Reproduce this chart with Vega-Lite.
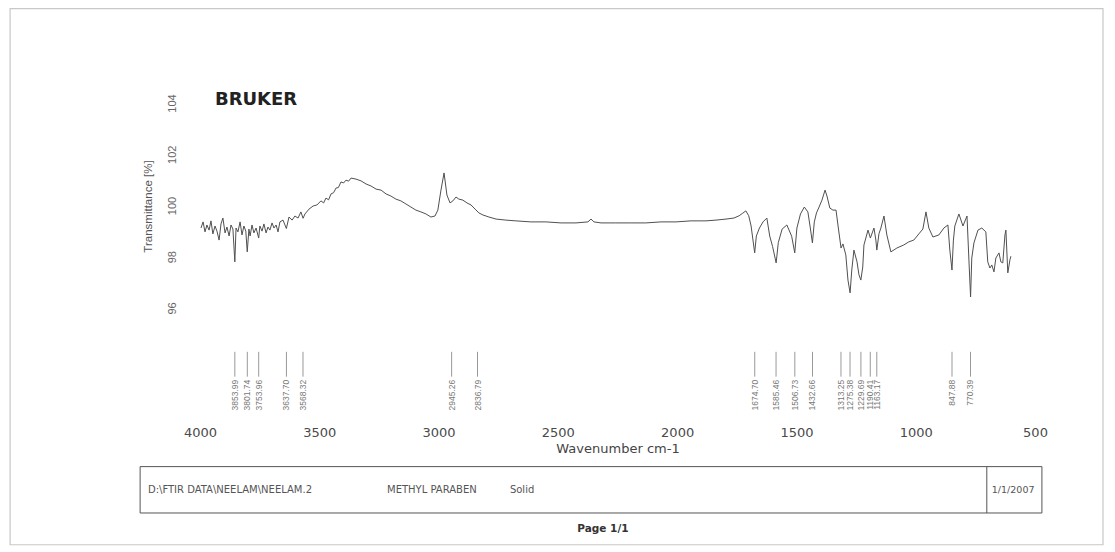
{
  "$schema": "https://vega.github.io/schema/vega-lite/v6.json",
  "autosize": "none",
  "width": 835,
  "height": 360,
  "padding": {"left": 200, "top": 60, "right": 80, "bottom": 132},
  "background": "white",
  "config": {"view": {"stroke": null}, "font": "Liberation Sans"},
  "datasets": {
    "spectrum": [
      {"wn": 3996, "t": 99.12}, {"wn": 3987, "t": 99.36}, {"wn": 3979, "t": 98.97}, {"wn": 3971, "t": 99.24},
      {"wn": 3962, "t": 99.04}, {"wn": 3954, "t": 99.40}, {"wn": 3946, "t": 98.89}, {"wn": 3937, "t": 99.20},
      {"wn": 3929, "t": 99.00}, {"wn": 3920, "t": 98.65}, {"wn": 3912, "t": 99.28}, {"wn": 3904, "t": 99.51},
      {"wn": 3895, "t": 98.93}, {"wn": 3887, "t": 99.16}, {"wn": 3878, "t": 98.81}, {"wn": 3870, "t": 99.24},
      {"wn": 3862, "t": 99.08}, {"wn": 3854, "t": 97.80}, {"wn": 3849, "t": 99.12}, {"wn": 3841, "t": 98.97},
      {"wn": 3832, "t": 99.36}, {"wn": 3824, "t": 98.85}, {"wn": 3816, "t": 99.20}, {"wn": 3808, "t": 99.00},
      {"wn": 3802, "t": 98.19}, {"wn": 3795, "t": 99.08}, {"wn": 3790, "t": 98.81}, {"wn": 3782, "t": 99.24},
      {"wn": 3774, "t": 98.93}, {"wn": 3765, "t": 99.12}, {"wn": 3754, "t": 98.73}, {"wn": 3749, "t": 99.20},
      {"wn": 3740, "t": 99.00}, {"wn": 3732, "t": 99.28}, {"wn": 3723, "t": 98.93}, {"wn": 3715, "t": 99.16},
      {"wn": 3707, "t": 99.04}, {"wn": 3698, "t": 99.32}, {"wn": 3690, "t": 99.12}, {"wn": 3681, "t": 99.24},
      {"wn": 3673, "t": 98.97}, {"wn": 3665, "t": 99.36}, {"wn": 3652, "t": 99.43}, {"wn": 3638, "t": 99.10},
      {"wn": 3627, "t": 99.55}, {"wn": 3614, "t": 99.43}, {"wn": 3602, "t": 99.59}, {"wn": 3589, "t": 99.51},
      {"wn": 3577, "t": 99.75}, {"wn": 3568, "t": 99.50}, {"wn": 3560, "t": 99.67}, {"wn": 3543, "t": 99.86},
      {"wn": 3526, "t": 99.98}, {"wn": 3510, "t": 100.02}, {"wn": 3493, "t": 100.18}, {"wn": 3482, "t": 100.10},
      {"wn": 3472, "t": 100.29}, {"wn": 3461, "t": 100.22}, {"wn": 3451, "t": 100.45}, {"wn": 3440, "t": 100.50},
      {"wn": 3430, "t": 100.68}, {"wn": 3420, "t": 100.70}, {"wn": 3409, "t": 100.92}, {"wn": 3398, "t": 100.88},
      {"wn": 3388, "t": 100.99}, {"wn": 3377, "t": 100.95}, {"wn": 3367, "t": 101.07}, {"wn": 3346, "t": 101.03},
      {"wn": 3325, "t": 100.96}, {"wn": 3304, "t": 100.84}, {"wn": 3283, "t": 100.76}, {"wn": 3262, "t": 100.64},
      {"wn": 3241, "t": 100.60}, {"wn": 3220, "t": 100.45}, {"wn": 3200, "t": 100.37}, {"wn": 3179, "t": 100.25},
      {"wn": 3158, "t": 100.18}, {"wn": 3137, "t": 100.06}, {"wn": 3116, "t": 99.94}, {"wn": 3095, "t": 99.82},
      {"wn": 3074, "t": 99.75}, {"wn": 3053, "t": 99.67}, {"wn": 3032, "t": 99.55}, {"wn": 3015, "t": 99.59},
      {"wn": 3003, "t": 99.82}, {"wn": 2990, "t": 100.60}, {"wn": 2977, "t": 101.27}, {"wn": 2965, "t": 100.41},
      {"wn": 2952, "t": 100.10}, {"wn": 2940, "t": 100.18}, {"wn": 2927, "t": 100.33}, {"wn": 2915, "t": 100.25},
      {"wn": 2898, "t": 100.21}, {"wn": 2881, "t": 100.10}, {"wn": 2864, "t": 100.02}, {"wn": 2847, "t": 99.86},
      {"wn": 2831, "t": 99.71}, {"wn": 2814, "t": 99.63}, {"wn": 2789, "t": 99.55}, {"wn": 2759, "t": 99.47},
      {"wn": 2718, "t": 99.43}, {"wn": 2676, "t": 99.40}, {"wn": 2613, "t": 99.36}, {"wn": 2550, "t": 99.36},
      {"wn": 2487, "t": 99.32}, {"wn": 2424, "t": 99.32}, {"wn": 2374, "t": 99.36}, {"wn": 2361, "t": 99.47},
      {"wn": 2349, "t": 99.36}, {"wn": 2319, "t": 99.32}, {"wn": 2257, "t": 99.32}, {"wn": 2194, "t": 99.32},
      {"wn": 2131, "t": 99.32}, {"wn": 2068, "t": 99.36}, {"wn": 2005, "t": 99.36}, {"wn": 1942, "t": 99.40},
      {"wn": 1879, "t": 99.40}, {"wn": 1837, "t": 99.43}, {"wn": 1795, "t": 99.47}, {"wn": 1762, "t": 99.51},
      {"wn": 1740, "t": 99.60}, {"wn": 1725, "t": 99.70}, {"wn": 1712, "t": 99.79}, {"wn": 1700, "t": 99.60},
      {"wn": 1690, "t": 99.20}, {"wn": 1675, "t": 98.15}, {"wn": 1668, "t": 98.81}, {"wn": 1655, "t": 99.12},
      {"wn": 1640, "t": 99.36}, {"wn": 1624, "t": 99.51}, {"wn": 1612, "t": 98.81}, {"wn": 1600, "t": 98.40},
      {"wn": 1585, "t": 97.76}, {"wn": 1576, "t": 98.55}, {"wn": 1560, "t": 99.08}, {"wn": 1540, "t": 99.24},
      {"wn": 1520, "t": 98.80}, {"wn": 1507, "t": 98.15}, {"wn": 1498, "t": 99.12}, {"wn": 1483, "t": 99.67},
      {"wn": 1467, "t": 99.94}, {"wn": 1452, "t": 99.75}, {"wn": 1443, "t": 99.20}, {"wn": 1433, "t": 98.54},
      {"wn": 1425, "t": 99.36}, {"wn": 1416, "t": 99.71}, {"wn": 1405, "t": 99.94}, {"wn": 1393, "t": 100.21},
      {"wn": 1380, "t": 100.60}, {"wn": 1372, "t": 100.37}, {"wn": 1360, "t": 99.90}, {"wn": 1347, "t": 99.82},
      {"wn": 1334, "t": 99.82}, {"wn": 1326, "t": 99.24}, {"wn": 1313, "t": 98.34}, {"wn": 1305, "t": 98.50},
      {"wn": 1293, "t": 98.07}, {"wn": 1284, "t": 97.09}, {"wn": 1275, "t": 96.59}, {"wn": 1268, "t": 97.48},
      {"wn": 1259, "t": 98.26}, {"wn": 1246, "t": 97.80}, {"wn": 1238, "t": 97.30}, {"wn": 1230, "t": 97.09},
      {"wn": 1222, "t": 97.60}, {"wn": 1217, "t": 98.46}, {"wn": 1200, "t": 99.04}, {"wn": 1190, "t": 98.73},
      {"wn": 1175, "t": 99.12}, {"wn": 1167, "t": 98.65}, {"wn": 1163, "t": 98.26}, {"wn": 1154, "t": 98.90},
      {"wn": 1146, "t": 99.12}, {"wn": 1133, "t": 99.59}, {"wn": 1121, "t": 98.85}, {"wn": 1104, "t": 98.19},
      {"wn": 1079, "t": 98.34}, {"wn": 1050, "t": 98.46}, {"wn": 1029, "t": 98.58}, {"wn": 1008, "t": 98.65},
      {"wn": 987, "t": 98.89}, {"wn": 970, "t": 99.08}, {"wn": 957, "t": 99.75}, {"wn": 945, "t": 99.12},
      {"wn": 928, "t": 98.77}, {"wn": 903, "t": 98.85}, {"wn": 882, "t": 99.12}, {"wn": 865, "t": 99.24},
      {"wn": 857, "t": 98.26}, {"wn": 848, "t": 97.48}, {"wn": 842, "t": 98.65}, {"wn": 836, "t": 99.20},
      {"wn": 819, "t": 99.67}, {"wn": 802, "t": 99.20}, {"wn": 785, "t": 99.59}, {"wn": 777, "t": 97.87},
      {"wn": 770, "t": 96.43}, {"wn": 765, "t": 97.95}, {"wn": 756, "t": 98.54}, {"wn": 739, "t": 99.04},
      {"wn": 723, "t": 99.12}, {"wn": 706, "t": 98.97}, {"wn": 698, "t": 97.80}, {"wn": 689, "t": 97.56},
      {"wn": 681, "t": 97.68}, {"wn": 672, "t": 97.41}, {"wn": 664, "t": 97.95}, {"wn": 651, "t": 98.15},
      {"wn": 643, "t": 97.80}, {"wn": 635, "t": 97.76}, {"wn": 626, "t": 98.85}, {"wn": 622, "t": 99.04},
      {"wn": 614, "t": 97.37}, {"wn": 605, "t": 97.88}, {"wn": 601, "t": 98.02}
    ],
    "peaks": [
      {"wn": 3853.99}, {"wn": 3801.74}, {"wn": 3753.96}, {"wn": 3637.70}, {"wn": 3568.32},
      {"wn": 2945.26}, {"wn": 2836.79}, {"wn": 1674.70}, {"wn": 1585.46}, {"wn": 1506.73},
      {"wn": 1432.66}, {"wn": 1313.25}, {"wn": 1275.38}, {"wn": 1229.69}, {"wn": 1190.41},
      {"wn": 1163.17}, {"wn": 847.88}, {"wn": 770.39}
    ]
  },
  "layer": [
    {
      "data": {"name": "spectrum"},
      "mark": {"type": "line", "color": "#505050", "strokeWidth": 1},
      "encoding": {
        "x": {
          "field": "wn", "type": "quantitative",
          "scale": {"domain": [4000, 500], "nice": false, "zero": false},
          "axis": {
            "values": [4000, 3500, 3000, 2500, 2000, 1500, 1000, 500],
            "format": "d", "domain": false, "ticks": false, "grid": false,
            "labelFlush": false, "labelOverlap": false,
            "labelFont": "DejaVu Sans", "labelFontSize": 13, "labelColor": "#4a4a4a", "labelPadding": 6,
            "title": "Wavenumber cm-1", "titleFont": "DejaVu Sans", "titleFontSize": 13, "titleFontWeight": "normal",
            "titleColor": "#444", "titlePadding": 3
          }
        },
        "y": {
          "field": "t", "type": "quantitative",
          "scale": {"domain": [91.629, 105.678], "nice": false, "zero": false},
          "axis": {
            "values": [96, 98, 100, 102, 104],
            "domain": false, "ticks": false, "grid": false,
            "labelAngle": 270, "labelAlign": "center", "labelBaseline": "middle",
            "labelFontSize": 11, "labelColor": "#666", "labelPadding": 28,
            "title": "Transmittance [%]", "titleFontSize": 11.5, "titleFontWeight": "normal",
            "titleColor": "#555", "titleAngle": 270, "titleX": -52, "titleY": 146,
            "titleAlign": "center", "titleBaseline": "middle"
          }
        }
      }
    },
    {
      "data": {"values": [{}]},
      "mark": {"type": "rect", "fill": null, "stroke": "#c8c8c8", "strokeWidth": 1.2},
      "encoding": {
        "x": {"datum": 4796, "type": "quantitative"},
        "x2": {"datum": 215},
        "y": {"datum": 107.68, "type": "quantitative"},
        "y2": {"datum": 86.76}
      }
    },
    {
      "data": {"name": "peaks"},
      "mark": {"type": "rule", "color": "#999", "strokeWidth": 1},
      "encoding": {
        "x": {"field": "wn", "type": "quantitative"},
        "y": {"datum": 94.29, "type": "quantitative"},
        "y2": {"datum": 93.32}
      }
    },
    {
      "data": {"name": "peaks"},
      "mark": {"type": "text", "angle": 270, "align": "right", "baseline": "middle", "fontSize": 8.5, "color": "#777"},
      "encoding": {
        "x": {"field": "wn", "type": "quantitative"},
        "y": {"datum": 93.2, "type": "quantitative"},
        "text": {"field": "wn", "type": "quantitative", "format": ".2f"}
      }
    },
    {
      "data": {"values": [{}]},
      "mark": {"type": "text", "text": "BRUKER", "font": "DejaVu Sans", "fontWeight": 900, "fontSize": 18, "color": "#222", "align": "center", "baseline": "middle"},
      "encoding": {
        "x": {"datum": 3765, "type": "quantitative"},
        "y": {"datum": 104.13, "type": "quantitative"}
      }
    },
    {
      "data": {"values": [{}]},
      "mark": {"type": "rect", "fill": null, "stroke": "#555", "strokeWidth": 1},
      "encoding": {
        "x": {"datum": 4251, "type": "quantitative"},
        "x2": {"datum": 471},
        "y": {"datum": 89.81, "type": "quantitative"},
        "y2": {"datum": 88.0}
      }
    },
    {
      "data": {"values": [{}]},
      "mark": {"type": "rule", "color": "#555", "strokeWidth": 1},
      "encoding": {
        "x": {"datum": 702, "type": "quantitative"},
        "y": {"datum": 89.81, "type": "quantitative"},
        "y2": {"datum": 88.0}
      }
    },
    {
      "data": {"values": [{}]},
      "mark": {"type": "text", "text": "D:\\FTIR DATA\\NEELAM\\NEELAM.2", "font": "DejaVu Sans", "fontSize": 10, "color": "#555", "align": "left", "baseline": "middle"},
      "encoding": {
        "x": {"datum": 4218, "type": "quantitative"},
        "y": {"datum": 88.91, "type": "quantitative"}
      }
    },
    {
      "data": {"values": [{}]},
      "mark": {"type": "text", "text": "METHYL PARABEN", "font": "DejaVu Sans", "fontSize": 10, "color": "#555", "align": "left", "baseline": "middle"},
      "encoding": {
        "x": {"datum": 3216, "type": "quantitative"},
        "y": {"datum": 88.91, "type": "quantitative"}
      }
    },
    {
      "data": {"values": [{}]},
      "mark": {"type": "text", "text": "Solid", "font": "DejaVu Sans", "fontSize": 10, "color": "#555", "align": "left", "baseline": "middle"},
      "encoding": {
        "x": {"datum": 2701, "type": "quantitative"},
        "y": {"datum": 88.91, "type": "quantitative"}
      }
    },
    {
      "data": {"values": [{}]},
      "mark": {"type": "text", "text": "1/1/2007", "font": "DejaVu Sans", "fontSize": 9.5, "color": "#555", "align": "left", "baseline": "middle"},
      "encoding": {
        "x": {"datum": 681, "type": "quantitative"},
        "y": {"datum": 88.91, "type": "quantitative"}
      }
    },
    {
      "data": {"values": [{}]},
      "mark": {"type": "text", "text": "Page 1/1", "font": "DejaVu Sans", "fontSize": 10.5, "fontWeight": "bold", "color": "#333", "align": "center", "baseline": "middle"},
      "encoding": {
        "x": {"datum": 2311, "type": "quantitative"},
        "y": {"datum": 87.39, "type": "quantitative"}
      }
    }
  ]
}
